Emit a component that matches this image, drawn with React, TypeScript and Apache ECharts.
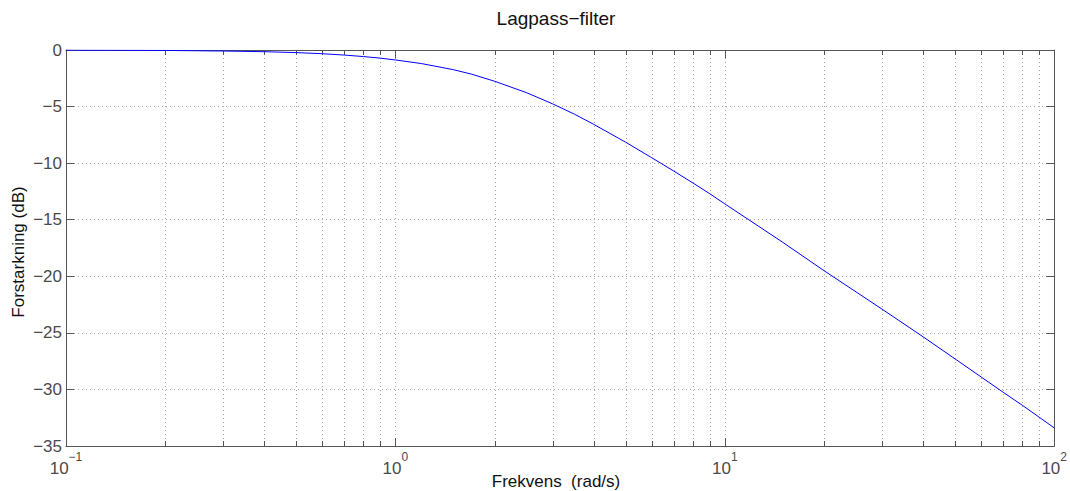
import React, { useEffect, useRef } from "react";
import * as echarts from "echarts";

// Frequency (rad/s) and gain (dB)
const frequencies = [
  0.1, 0.2, 0.3, 0.4, 0.5, 0.6, 0.7, 0.8, 0.9, 1, 1.2, 1.5, 1.7, 2, 2.5, 3, 3.5, 4, 5, 6, 7, 8, 9,
  10, 15, 20, 30, 40, 50, 60, 70, 80, 90, 100,
];
const gainDb = [
  -0.01, -0.04, -0.09, -0.15, -0.23, -0.33, -0.45, -0.58, -0.72, -0.88, -1.2, -1.74, -2.13, -2.76,
  -3.77, -4.76, -5.68, -6.57, -8.15, -9.52, -10.7, -11.75, -12.7, -13.6, -17.0, -19.5, -22.9,
  -25.35, -27.3, -28.9, -30.25, -31.4, -32.45, -33.4,
];

// x ticks of the log axis (decades and in-between)
const minorFreqs = [
  0.2, 0.3, 0.4, 0.5, 0.6, 0.7, 0.8, 0.9, 2, 3, 4, 5, 6, 7, 8, 9, 20, 30, 40, 50, 60, 70, 80, 90,
];
const majorFreqs = [1, 10];

const yMin = -35;
const yMax = 0;
const yStep = 5;

const titleText = "Lagpass\u2212filter";
const xName = "Frekvens  (rad/s)";
const yName = "Forstarkning (dB)";

export default function App() {
  const ref = useRef<HTMLDivElement>(null);

  useEffect(() => {
    const chart = echarts.init(ref.current!, null, { renderer: "svg" });
    const font = "'Liberation Sans', Arial, Helvetica, sans-serif";
    const axisColor = "#555555";
    const labelColor = "#4a4a4a";
    const gridColor = "#a8a8a8";

    const tickData = [
      ...minorFreqs.map((f) => [f, 0]),
      ...majorFreqs.map((f) => [f, 1]),
    ];

    const option: any = {
      animation: false,
      backgroundColor: "#ffffff",
      title: {
        text: titleText,
        left: 556,
        textAlign: "center",
        top: 9,
        padding: 0,
        textStyle: { fontFamily: font, fontSize: 19, fontWeight: "normal", color: "#111" },
      },
      grid: { left: 66, right: 13, top: 50, bottom: 45, containLabel: false },
      xAxis: [
        {
          type: "log",
          logBase: 10,
          min: 0.1,
          max: 100,
          position: "bottom",
          axisLine: { show: true, onZero: false, lineStyle: { color: axisColor, width: 1 } },
          axisTick: { show: false },
          splitLine: { show: false },
          minorTick: { show: false },
          axisLabel: {
            margin: 5,
            formatter: (v: number) => {
              const e = Math.round(Math.log10(v));
              return `{b|10}{s|${e < 0 ? "\u2212" + -e : e}}`;
            },
            rich: {
              b: { fontFamily: font, fontSize: 17, color: labelColor, lineHeight: 26, verticalAlign: "bottom" },
              s: { fontFamily: font, fontSize: 12, color: labelColor, lineHeight: 12, verticalAlign: "top" },
            },
          },
        },
        {
          type: "log",
          logBase: 10,
          min: 0.1,
          max: 100,
          position: "top",
          axisLine: { show: true, onZero: false, lineStyle: { color: axisColor, width: 1 } },
          axisTick: { show: false },
          axisLabel: { show: false },
          splitLine: { show: false },
        },
      ],
      yAxis: [
        {
          type: "value",
          min: yMin,
          max: yMax,
          interval: yStep,
          axisLine: { show: true, onZero: false, lineStyle: { color: axisColor, width: 1 } },
          axisTick: { show: true, inside: true, length: 8, lineStyle: { color: axisColor } },
          axisLabel: {
            margin: 4,
            fontFamily: font,
            fontSize: 17,
            color: labelColor,
            formatter: (v: number) => (v < 0 ? "\u2212" + Math.abs(v) : String(v)),
          },
          splitLine: { show: true, lineStyle: { type: [1, 3], color: gridColor, width: 1 } },
        },
        {
          type: "value",
          min: yMin,
          max: yMax,
          interval: yStep,
          position: "right",
          axisLine: { show: true, onZero: false, lineStyle: { color: axisColor, width: 1 } },
          axisTick: { show: true, inside: true, length: 8, lineStyle: { color: axisColor } },
          axisLabel: { show: false },
          splitLine: { show: false },
        },
      ],
      graphic: [
        {
          type: "text",
          x: 556,
          y: 481,
          style: {
            text: xName,
            fontFamily: font,
            fontSize: 17,
            fill: "#111",
            align: "center",
            verticalAlign: "middle",
          },
        },
        {
          type: "text",
          x: 18,
          y: 252,
          rotation: Math.PI / 2,
          style: {
            text: yName,
            fontFamily: font,
            fontSize: 17,
            fill: "#111",
            align: "center",
            verticalAlign: "middle",
          },
        },
      ],
      series: [
        {
          type: "custom",
          xAxisIndex: 0,
          yAxisIndex: 0,
          silent: true,
          z: 1,
          data: tickData,
          renderItem: (params: any, api: any) => {
            const v = api.value(0);
            const major = api.value(1) === 1;
            const top = api.coord([v, yMax]);
            const bot = api.coord([v, yMin]);
            const x = Math.round(top[0]) + 0.5;
            const len = major ? 8 : 5;
            return {
              type: "group",
              children: [
                {
                  type: "line",
                  shape: { x1: x, y1: top[1], x2: x, y2: bot[1] },
                  style: { stroke: gridColor, lineWidth: 1, lineDash: [1, 3] },
                },
                {
                  type: "line",
                  shape: { x1: x, y1: bot[1], x2: x, y2: bot[1] - len },
                  style: { stroke: axisColor, lineWidth: 1 },
                },
                {
                  type: "line",
                  shape: { x1: x, y1: top[1], x2: x, y2: top[1] + len },
                  style: { stroke: axisColor, lineWidth: 1 },
                },
              ],
            };
          },
        },
        {
          type: "line",
          xAxisIndex: 0,
          yAxisIndex: 0,
          z: 3,
          showSymbol: false,
          smooth: false,
          lineStyle: { color: "#0000ff", width: 1 },
          data: frequencies.map((f, i) => [f, gainDb[i]]),
        },
      ],
    };

    chart.setOption(option);
    return () => chart.dispose();
  }, []);

  return (
    <div
      ref={ref}
      style={{ position: "fixed", left: 0, top: 0, width: 1070, height: 491, background: "#fff" }}
    />
  );
}
